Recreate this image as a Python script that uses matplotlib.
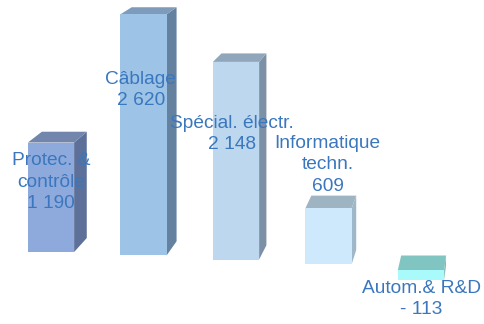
import matplotlib
matplotlib.use("Agg")
import matplotlib.pyplot as plt
from matplotlib.patches import Polygon
from matplotlib import transforms

# Data
categories = ["Protec. &\ncontrôle", "Câblage", "Spécial. électr.", "Informatique\ntechn.", "Autom.& R&D"]
values = [1190, 2620, 2148, 609, -113]
value_labels = ["1 190", "2 620", "2 148", "609", "- 113"]

# Styling
front_colors = ["#8eaadc", "#9dc3e6", "#bdd7ee", "#cde9fb", "#a9fafa"]
side_colors = ["#5c7099", "#64819f", "#7c91a6", "#9fb8c9", "#7cbab6"]
top_colors = ["#7185ad", "#7f9bbb", "#8fa6bb", "#9fb4c2", "#80c5c1"]
label_color = "#3a77be"
label_y_axes = [0.438, 0.722, 0.586, 0.491, 0.077]
label_dx = [0.0, -0.03, -0.04, -0.01, 0.0]

PX_PER_UNIT = 0.092          # vertical pixels per value unit
X_STEP_PX = 92.5             # pixels between bar centres
BAR_WIDTH = 0.5

fig = plt.figure(figsize=(4.84, 3.24), dpi=100)
ax = fig.add_axes([0, 0, 1, 1])
ax.set_xlim(-51 / X_STEP_PX, (484 - 51) / X_STEP_PX)
ax.set_ylim(-72 / PX_PER_UNIT, 252 / PX_PER_UNIT)
ax.axis("off")

# Floor tilt (in value units) and a vanishing point for the depth faces
def floor(i):
    return -(3.0 * i + 0.375 * i * i) / PX_PER_UNIT

VX = (510 - 51) / X_STEP_PX
VY = (252 + 230) / PX_PER_UNIT
DEPTH = 0.029

def back(p):
    return (p[0] + DEPTH * (VX - p[0]), p[1] + DEPTH * (VY - p[1]))

for i, v in enumerate(values):
    base = floor(i)
    lo, hi = min(base, base + v), max(base, base + v)
    xl, xr = i - BAR_WIDTH / 2, i + BAR_WIDTH / 2

    side = [(xr, hi), (xr, lo), back((xr, lo)), back((xr, hi))]
    ax.add_patch(Polygon(side, closed=True, facecolor=side_colors[i],
                         edgecolor="none", zorder=2))
    top = [(xl, hi), (xr, hi), back((xr, hi)), back((xl, hi))]
    ax.add_patch(Polygon(top, closed=True, facecolor=top_colors[i],
                         edgecolor="none", zorder=2))
    ax.bar(i, v, width=BAR_WIDTH, bottom=base, color=front_colors[i],
           edgecolor="none", zorder=3)

trans = transforms.blended_transform_factory(ax.transData, ax.transAxes)
for i, (cat, lab) in enumerate(zip(categories, value_labels)):
    ax.text(i + label_dx[i], label_y_axes[i], f"{cat}\n{lab}", transform=trans,
            ha="center", va="center", multialignment="center",
            fontsize=13.8, color=label_color, family="Liberation Sans",
            linespacing=1.32, zorder=5)

fig.savefig("out.png", dpi=100)
